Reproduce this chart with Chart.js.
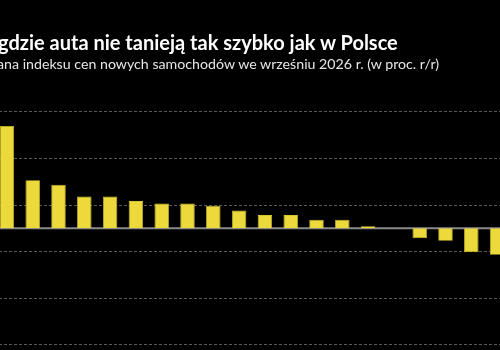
<!DOCTYPE html>
<html>
<head>
<meta charset="utf-8">
<script src="https://cdn.jsdelivr.net/npm/chart.js@4"></script>
<style>
  html, body { margin: 0; padding: 0; background: #000; }
  #wrap { position: relative; width: 500px; height: 350px; overflow: hidden; background: #000; }
  #box { position: absolute; left: -5.6px; top: 0; width: 516px; height: 350px; }
  .title { position: absolute; left: -2px; top: 30px; font: bold 20px Lato, sans-serif; line-height: 24px; color: #fff; white-space: nowrap; z-index: 2; }
  .sub { position: absolute; left: -3px; top: 55px; font: 14.2px Lato, sans-serif; line-height: 18px; color: #e6e6e6; white-space: nowrap; z-index: 2; }
</style>
</head>
<body>
<div id="wrap">
  <div class="title">gdzie auta nie tanieją tak szybko jak w Polsce</div>
  <div class="sub">ana indeksu cen nowych samochodów we wrześniu 2026 r. (w proc. r/r)</div>
  <div id="box"><canvas id="chart"></canvas></div>
</div>
<script>
// data (country labels are cropped out)
var categories = ["1", "2", "3", "4", "5", "6", "7", "8", "9", "10",
  "11", "12", "13", "14", "15", "16", "17", "18", "19", "20"];
var values = [4.39, 2.07, 1.87, 1.37, 1.37, 1.17, 1.07, 1.07, 0.97, 0.77,
  0.57, 0.57, 0.37, 0.37, 0.09, 0, -0.42, -0.53, -1.03, -1.13];
var gridTicks = [-5, -3, -1, 1, 3, 5];

// zero line on top of the grid
const zeroLine = {
  id: "zeroLine",
  beforeDatasetsDraw(chart) {
    const ctx = chart.ctx;
    const y = chart.scales.y.getPixelForValue(0);
    ctx.save();
    ctx.strokeStyle = "#8a8a8a";
    ctx.lineWidth = 2;
    ctx.beginPath();
    ctx.moveTo(chart.chartArea.left, y);
    ctx.lineTo(chart.chartArea.right, y);
    ctx.stroke();
    ctx.restore();
  },
};

new Chart(document.getElementById("chart"), {
  type: "bar",
  data: {
    labels: categories,
    datasets: [
      {
        data: values,
        backgroundColor: "#ecda3c",
        borderColor: "#d8c52e",
        borderWidth: 0.8,
        barPercentage: 0.56,
        categoryPercentage: 1,
      },
    ],
  },
  options: {
    responsive: true,
    maintainAspectRatio: false,
    animation: false,
    layout: { padding: 0 },
    plugins: { legend: { display: false }, tooltip: { enabled: false } },
    scales: {
      x: {
        display: false,
        grid: { display: false },
      },
      y: {
        min: -5.22,
        max: 9.8,
        afterBuildTicks: function (scale) {
          scale.ticks = gridTicks.map(function (v) { return { value: v }; });
        },
        ticks: { display: false },
        grid: { color: "#5a5a5a", lineWidth: 1, drawTicks: false },
        border: { display: false, dash: [3, 2] },
      },
    },
  },
  plugins: [zeroLine],
});
</script>
</body>
</html>
